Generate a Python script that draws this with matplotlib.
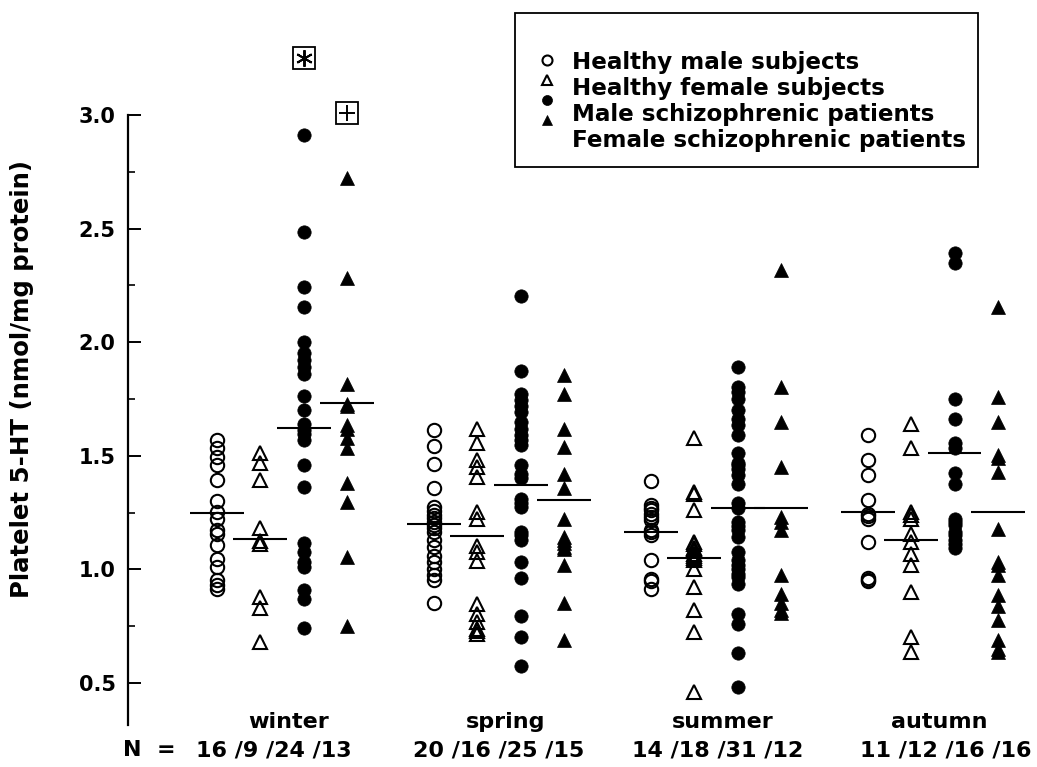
import matplotlib
matplotlib.use("Agg")
import matplotlib.pyplot as plt
from matplotlib.lines import Line2D
from matplotlib.patches import Rectangle
import matplotlib.transforms as mtransforms

plt.rcParams['font.family'] = ['DejaVu Sans']
plt.rcParams['font.weight'] = 'bold'

seasons = ["winter", "spring", "summer", "autumn"]
groups = ["Healthy male subjects", "Healthy female subjects",
          "Male schizophrenic patients", "Female schizophrenic patients"]
n_labels = ["16 /9 /24 /13", "20 /16 /25 /15", "14 /18 /31 /12", "11 /12 /16 /16"]

winter_hm = [1.568, 1.536, 1.495, 1.458, 1.395, 1.301, 1.252, 1.223, 1.172, 1.154,
             1.106, 1.047, 1.010, 0.952, 0.930, 0.915]
winter_hf = [1.510, 1.466, 1.392, 1.184, 1.125, 1.110, 0.878, 0.831, 0.680]
winter_ms = [2.912, 2.483, 2.244, 2.153, 2.001, 1.953, 1.920, 1.891, 1.862, 1.762,
             1.700, 1.640, 1.615, 1.598, 1.568, 1.461, 1.363, 1.116, 1.076, 1.032,
             1.010, 0.910, 0.871, 0.741]
winter_fs = [2.721, 2.281, 1.818, 1.730, 1.718, 1.634, 1.620, 1.576, 1.532, 1.378,
             1.297, 1.054, 0.749]

spring_hm = [1.612, 1.542, 1.463, 1.360, 1.274, 1.255, 1.240, 1.225, 1.210, 1.195,
             1.180, 1.165, 1.128, 1.098, 1.060, 1.032, 1.003, 0.975, 0.952, 0.853]
spring_hf = [1.620, 1.554, 1.483, 1.451, 1.407, 1.252, 1.223, 1.101, 1.076, 1.037,
             0.846, 0.805, 0.768, 0.739, 0.728, 0.717]
spring_ms = [2.203, 1.874, 1.774, 1.744, 1.720, 1.693, 1.649, 1.620, 1.590, 1.570,
             1.546, 1.458, 1.420, 1.400, 1.311, 1.290, 1.274, 1.164, 1.150, 1.131,
             1.032, 0.963, 0.793, 0.702, 0.573]
spring_fs = [1.855, 1.774, 1.620, 1.539, 1.421, 1.360, 1.223, 1.142, 1.130, 1.116,
             1.100, 1.091, 1.021, 0.852, 0.690]

summer_hm = [1.389, 1.282, 1.270, 1.260, 1.245, 1.230, 1.219, 1.172, 1.165, 1.150,
             1.043, 0.959, 0.950, 0.915]
summer_hf = [1.580, 1.341, 1.330, 1.260, 1.120, 1.110, 1.096, 1.090, 1.080, 1.069,
             1.060, 1.050, 1.040, 1.003, 0.922, 0.822, 0.724, 0.459]
summer_ms = [1.891, 1.803, 1.780, 1.752, 1.700, 1.660, 1.634, 1.590, 1.510, 1.466,
             1.458, 1.440, 1.414, 1.377, 1.292, 1.270, 1.208, 1.190, 1.172, 1.142,
             1.076, 1.040, 1.020, 1.003, 0.980, 0.966, 0.937, 0.802, 0.761, 0.631,
             0.481]
summer_fs = [2.317, 1.803, 1.649, 1.451, 1.230, 1.210, 1.172, 0.974, 0.893, 0.850,
             0.822, 0.806]

autumn_hm = [1.590, 1.483, 1.414, 1.304, 1.245, 1.233, 1.220, 1.120, 0.963, 0.955,
             0.949]
autumn_hf = [1.642, 1.532, 1.253, 1.240, 1.223, 1.154, 1.120, 1.069, 1.018, 0.900,
             0.702, 0.636]
autumn_ms = [2.393, 2.347, 1.752, 1.664, 1.554, 1.533, 1.422, 1.377, 1.223, 1.210,
             1.194, 1.164, 1.150, 1.131, 1.110, 1.096]
autumn_fs = [2.156, 1.759, 1.649, 1.502, 1.490, 1.429, 1.179, 1.032, 1.020, 0.974,
             0.885, 0.837, 0.778, 0.687, 0.650, 0.636]

# mean lines (HM, HF, MS, FS)
winter_means = [1.250, 1.134, 1.623, 1.733]
spring_means = [1.201, 1.145, 1.373, 1.304]
summer_means = [1.164, 1.051, 1.272, 1.272]
autumn_means = [1.253, 1.131, 1.512, 1.253]

# significance markers: (season index, group index, y)
sig_asterisk = (0, 2, 3.25)
sig_plus = (0, 3, 3.01)

data = [[winter_hm, winter_hf, winter_ms, winter_fs],
        [spring_hm, spring_hf, spring_ms, spring_fs],
        [summer_hm, summer_hf, summer_ms, summer_fs],
        [autumn_hm, autumn_hf, autumn_ms, autumn_fs]]
means = [winter_means, spring_means, summer_means, autumn_means]

W, H = 1037, 767
fig = plt.figure(figsize=(W / 100, H / 100), dpi=100)

def fx(px):
    return px / W

def fy(py):
    return 1 - py / H

ax = fig.add_axes([fx(128), fy(725), fx(1037) - fx(128), fy(0) - fy(725)])

styles = [dict(marker='o', fillstyle='none', ms=9.6, mew=1.5),
          dict(marker='^', fillstyle='none', ms=9.4, mew=1.5),
          dict(marker='o', fillstyle='full', ms=9.6, mew=0.5),
          dict(marker='^', fillstyle='full', ms=9.4, mew=0.5)]

SEASON_GAP = 5
for s, season_data in enumerate(data):
    for g, vals in enumerate(season_data):
        x = s * SEASON_GAP + g
        ax.plot([x] * len(vals), vals, linestyle='none', color='black',
                markerfacecolor='black' if g >= 2 else 'none',
                markeredgecolor='black', **styles[g], zorder=3)
        m = means[s][g]
        ax.plot([x - 0.62, x + 0.62], [m, m], color='black', lw=1.5, zorder=4,
                solid_capstyle='butt')

# significance symbols
for (s, g, yv), sym in [(sig_asterisk, (6, 2, 0)), (sig_plus, '+')]:
    x = s * SEASON_GAP + g
    ax.plot([x], [yv], marker='s', ms=16, mfc='white', mec='black', mew=1.3,
            linestyle='none', zorder=5, clip_on=False)
    ax.plot([x], [yv], marker=sym, ms=12, mec='black', mew=1.4,
            linestyle='none', zorder=6, clip_on=False)

ax.set_xlim(-2.05, 18.9)
ax.set_ylim(0.315, 3.506)
for sp in ['top', 'right', 'bottom']:
    ax.spines[sp].set_visible(False)
ax.spines['left'].set_bounds(0.315, 3.0)
ax.spines['left'].set_linewidth(1.6)
ax.set_xticks([])
ax.set_yticks([0.5, 1.0, 1.5, 2.0, 2.5, 3.0])
ax.set_yticks([0.75, 1.25, 1.75, 2.25, 2.75], minor=True)
ax.set_yticklabels(["0.5", "1.0", "1.5", "2.0", "2.5", "3.0"])
ax.tick_params(axis='y', which='major', direction='in', length=9, width=1.4,
               pad=9, labelsize=15)
ax.tick_params(axis='y', which='minor', direction='in', length=5, width=1.2)
for lab in ax.get_yticklabels():
    lab.set_fontweight('bold')

fig.text(fx(22), fy(379), "Platelet 5-HT (nmol/mg protein)", rotation=90,
         ha='center', va='center', fontsize=17.6, fontweight='bold')

blend = mtransforms.blended_transform_factory(ax.transData, fig.transFigure)
count_offsets = [-0.2, 0.0, 0.05, 0.3]
for s, name in enumerate(seasons):
    xc = s * SEASON_GAP + 1.5
    fig.text(xc + 0.15, fy(722), name, transform=blend, ha='center', va='center',
             fontsize=16, fontweight='bold')
    fig.text(xc + count_offsets[s], fy(750), n_labels[s], transform=blend,
             ha='center', va='center', fontsize=16, fontweight='bold')
fig.text(fx(123), fy(750), "N  =", ha='left', va='center', fontsize=16,
         fontweight='bold')

# legend box
fig.add_artist(Rectangle((fx(515), fy(167)), fx(978) - fx(515), fy(13) - fy(167),
                         transform=fig.transFigure, fill=False, ec='black', lw=1.3))
leg_rows = [60, 80, 100, 120]
for g in range(len(groups)):
    st = dict(styles[g])
    st['ms'] = st['ms'] * 0.75
    fig.add_artist(Line2D([fx(547)], [fy(leg_rows[g])], transform=fig.transFigure,
                          linestyle='none', color='black',
                          markerfacecolor='black' if g >= 2 else 'none',
                          markeredgecolor='black', **st))
fig.text(fx(572), fy(51), "\n".join(groups), ha='left', va='top',
         fontsize=16.6, fontweight='bold', linespacing=1.16)

fig.savefig("out.png", dpi=100)
